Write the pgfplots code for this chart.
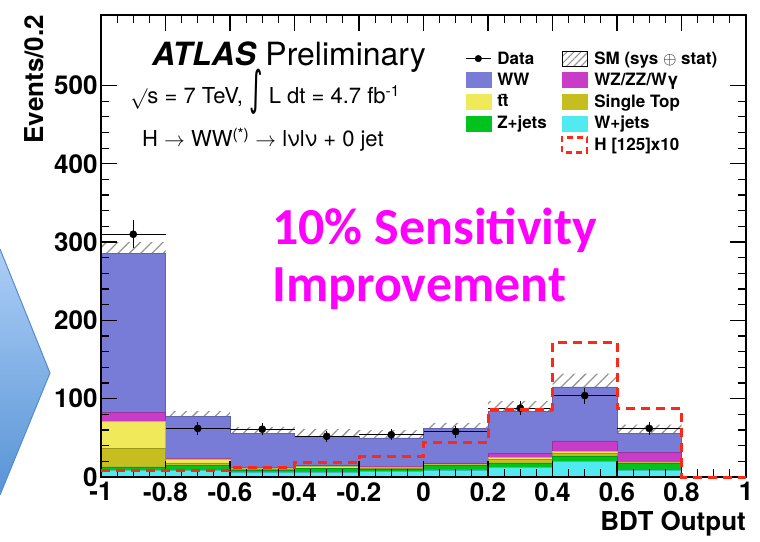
\documentclass[border=0pt]{standalone}
\usepackage{pgfplots}
\pgfplotsset{compat=1.18}
\usepackage{pgfplotstable}
\usepgfplotslibrary{fillbetween}
\usetikzlibrary{patterns.meta}
\usepackage{fontspec}
\setmainfont{TeX Gyre Heros}
\newfontfamily\calibri{Carlito}
\newfontfamily\djv{DejaVu Sans}

\definecolor{wwcol}{RGB}{120,124,214}
\definecolor{wzcol}{RGB}{200,60,200}
\definecolor{ttcol}{RGB}{240,234,90}
\definecolor{stcol}{RGB}{198,190,30}
\definecolor{zjcol}{RGB}{0,195,30}
\definecolor{wjcol}{RGB}{80,234,240}
\definecolor{higgs}{RGB}{255,40,20}
\definecolor{slogan}{RGB}{255,0,255}
\definecolor{hatch}{RGB}{150,150,150}

% cumulative stack tops per bin (lower bin edge), SM band and signal x10
\pgfplotstableread{
x     wj   zj    st    tt    wz    ww   lo   hi   sig
-1.0  9    13    37    71    83    286  274  300  8
-0.8  8.5  14.5  18    23    24.5  77   71   84   8
-0.6  6.5  8     9.5   11.5  13    56   50   64   12
-0.4  6.5  11    11.5  13.5  15    52   44   61   18
-0.2  7    10    11    13    14    50   45   60   26
0.0   9    15    15.5  16.5  18    62   55   69   44
0.2   12   18    22    25    30    84   73   97   86
0.4   20   27    30    33    46    115  100  132  172
0.6   8    17    18    19    31    56   47   67   87
0.8   0    0     0     0     0     0    0    0    0
1.0   0    0     0     0     0     0    0    0    0
}\stack

% observed events with statistical errors
\pgfplotstableread{
x     y    ex   ey
-0.9  310  0.1  17.6
-0.7  62   0.1  7.9
-0.5  61   0.1  7.8
-0.3  52   0.1  7.2
-0.1  54   0.1  7.3
0.1   58   0.1  7.6
0.3   88   0.1  9.4
0.5   104  0.1  10.2
0.7   62   0.1  7.9
}\data

\pgfplotsset{
  boxleg/.style={legend image code/.code={\fill[#1] (0pt,-7.5pt) rectangle (25pt,7.5pt);}},
  stk/.style={const plot mark left, fill=#1, draw=#1!80!black, line width=0.6pt, forget plot},
}

\begin{document}
\begin{tikzpicture}[x=1pt,y=1pt]

% slide arrow
\shade[top color={rgb,255:red,172;green,206;blue,246}, bottom color={rgb,255:red,88;green,148;blue,214}]
  (-5,292) -- (0,292) -- (50,168) -- (0,46) -- (-5,46) -- cycle;
\draw[color={rgb,255:red,84;green,140;blue,204}, line width=1pt] (0,292) -- (50,168) -- (0,46);

\begin{axis}[
  set layers,
  at={(101pt,64pt)}, anchor=south west,
  scale only axis, width=645pt, height=462pt,
  xmin=-1, xmax=1, ymin=0, ymax=590,
  clip=false,
  axis on top,
  axis line style={line width=2pt},
  xtick={-1,-0.8,-0.6,-0.4,-0.2,0,0.2,0.4,0.6,0.8,1},
  xticklabels={-1,-0.8,-0.6,-0.4,-0.2,0,0.2,0.4,0.6,0.8,1},
  ytick={0,100,200,300,400,500},
  minor x tick num=3, minor y tick num=4,
  major tick length=16pt, minor tick length=8pt,
  every tick/.style={black, line width=1.2pt},
  tick align=inside,
  ticklabel style={font=\fontsize{26}{26}\bfseries\selectfont},
  xticklabel style={yshift=-2pt},
  /pgf/number format/assume math mode=true,
  legend columns=2,
  legend cell align=left,
  legend style={draw=none, fill=none, at={(0.56,0.93)}, anchor=north west,
    font=\fontsize{17}{20}\bfseries\selectfont, row sep=3.5pt,
    /tikz/every odd column/.append style={column sep=4pt},
    /tikz/every even column/.append style={column sep=12pt}},
]
\addplot[stk=wwcol] table[x=x,y=ww] {\stack} \closedcycle;
\addplot[stk=wzcol] table[x=x,y=wz] {\stack} \closedcycle;
\addplot[stk=ttcol] table[x=x,y=tt] {\stack} \closedcycle;
\addplot[stk=stcol] table[x=x,y=st] {\stack} \closedcycle;
\addplot[stk=zjcol] table[x=x,y=zj] {\stack} \closedcycle;
\addplot[stk=wjcol] table[x=x,y=wj] {\stack} \closedcycle;

% SM uncertainty band
\addplot[const plot mark left, draw=none, name path=up, forget plot] table[x=x,y=hi] {\stack};
\addplot[const plot mark left, draw=none, name path=dn, forget plot] table[x=x,y=lo] {\stack};
\addplot[pattern={Lines[angle=45,distance=8pt,line width=1.3pt]}, pattern color=hatch, draw=none, forget plot]
  fill between[of=up and dn];

% data
\addplot[only marks, mark=*, mark size=3.6pt, black, forget plot,
  error bars/.cd, x dir=both, x explicit, y dir=both, y explicit,
  error mark=none, error bar style={line width=0.8pt, black}]
  table[x=x,y=y,x error=ex,y error=ey] {\data};

% signal x10, drawn over the frame
\addplot[on layer=axis foreground, const plot mark left, higgs, line width=3pt,
  dash pattern=on 9pt off 6pt, forget plot]
  table[x=x,y=sig] {\stack};

% legend
\addlegendimage{legend image code/.code={\draw[line width=0.9pt] (0pt,0pt) -- (25pt,0pt); \fill (12.5pt,0pt) circle (3.3pt);}}
\addlegendentry{Data}
\addlegendimage{legend image code/.code={\fill[pattern={Lines[angle=45,distance=5pt,line width=1.1pt]}, pattern color=hatch] (0pt,-7.5pt) rectangle (25pt,7.5pt);}}
\addlegendentry{SM (sys $\oplus$ stat)}
\addlegendimage{boxleg=wwcol}\addlegendentry{WW}
\addlegendimage{boxleg=wzcol}\addlegendentry{WZ/ZZ/Wγ}
\addlegendimage{boxleg=ttcol}\addlegendentry{t\={t}}
\addlegendimage{boxleg=stcol}\addlegendentry{Single Top}
\addlegendimage{boxleg=zjcol}\addlegendentry{Z+jets}
\addlegendimage{boxleg=wjcol}\addlegendentry{W+jets}
\addlegendimage{empty legend}\addlegendentry{}
\addlegendimage{legend image code/.code={\draw[higgs, line width=2.5pt, dash pattern=on 6pt off 4pt] (0pt,-7.5pt) rectangle (25pt,7.5pt);}}
\addlegendentry{H [125]x10}
\end{axis}

% axis titles
\node[rotate=90, anchor=base east, inner sep=0pt, font=\fontsize{26}{26}\bfseries\selectfont] at (43,526) {Events/0.2};
\node[anchor=base east, inner sep=0pt, font=\fontsize{26}{26}\bfseries\selectfont] at (746,11) {BDT Output};

% labels
\node[anchor=base west, inner sep=0pt, font=\fontsize{32}{32}\selectfont] at (152,475)
  {\textbf{\textit{ATLAS}} Preliminary};
\node[anchor=base west, inner sep=0pt, font=\fontsize{22}{22}\selectfont] at (130,437)
  {$\surd$s = 7 TeV, \raisebox{-1pt}{\scalebox{1}[1.8]{\djv\fontsize{26}{26}\selectfont ∫}} L dt = 4.7 fb\textsuperscript{-1}};
\node[anchor=base west, inner sep=0pt, font=\fontsize{22}{22}\selectfont] at (142,394)
  {H $\rightarrow$ WW\textsuperscript{(*)} $\rightarrow$ lνlν + 0 jet};

\node[anchor=base west, inner sep=0pt, text=slogan, font=\calibri\fontsize{52}{52}\bfseries\selectfont] at (272,296)
  {10\% Sensitivity};
\node[anchor=base west, inner sep=0pt, text=slogan, font=\calibri\fontsize{52}{52}\bfseries\selectfont] at (272,239)
  {Improvement};

% page extent
\pgfresetboundingbox
\path[use as bounding box] (0,0) rectangle (760,541);
\end{tikzpicture}
\end{document}
